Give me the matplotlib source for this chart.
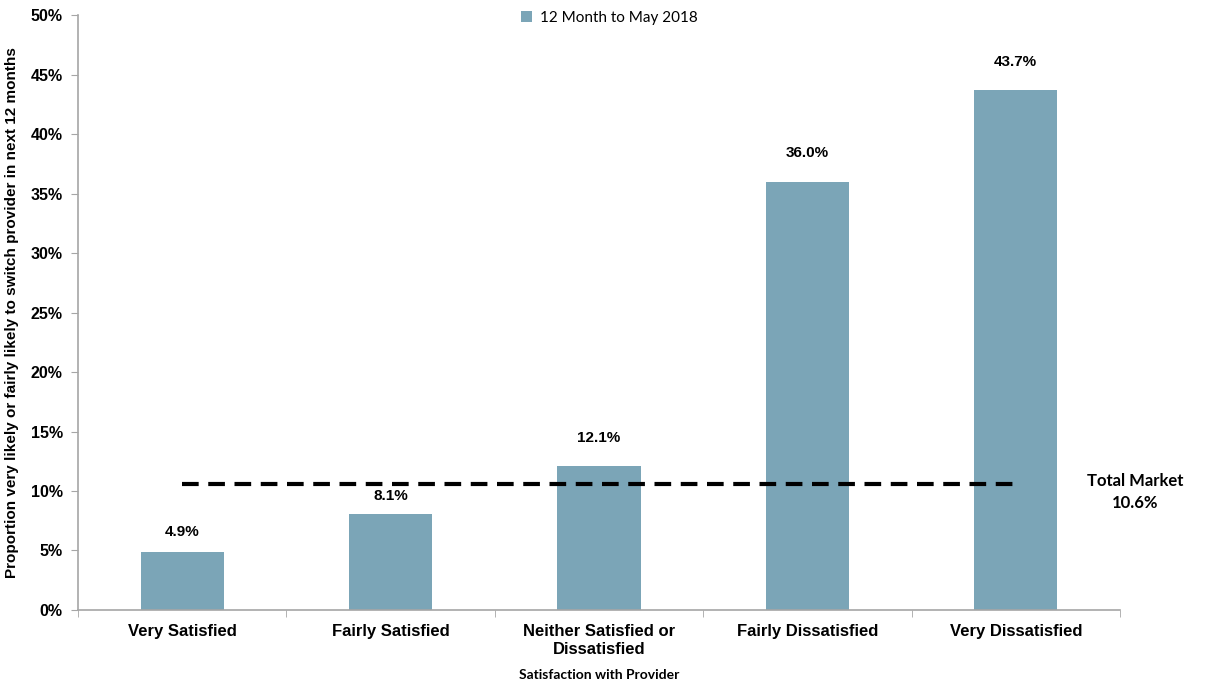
import matplotlib
matplotlib.use("Agg")
import matplotlib.pyplot as plt
import numpy as np
from matplotlib.ticker import FixedLocator, PercentFormatter

categories = ["Very Satisfied", "Fairly Satisfied", "Neither Satisfied or\nDissatisfied",
              "Fairly Dissatisfied", "Very Dissatisfied"]
values = [4.9, 8.1, 12.1, 36.0, 43.7]
total_market = 10.6
series_name = "12 Month to May 2018"
yticks = [0, 5, 10, 15, 20, 25, 30, 35, 40, 45, 50]

# label offsets above bar tops (points) - styling only
label_offsets = [14, 12.5, 20, 20.5, 20.5]

bar_color = "#7BA5B7"
fig = plt.figure(figsize=(12.13, 6.86), dpi=100)
ax = fig.add_axes([0.0643, 0.1108, 0.859, 0.8673])

x = np.arange(len(categories))
bars = ax.bar(x, values, width=0.4, color=bar_color, label=series_name, zorder=2)
for xi, v, off in zip(x, values, label_offsets):
    ax.annotate(f"{v:.1f}%", (xi, v), xytext=(0, off), textcoords="offset points",
                ha="center", va="center", fontsize=11, fontweight="bold",
                family="Liberation Sans")

ax.plot([x[0], x[-1]], [total_market, total_market], color="black", lw=3,
        dashes=(4, 2.3), zorder=3)
ax.annotate(f"Total Market\n{total_market}%", (x[-1], total_market), xytext=(86, -6),
            textcoords="offset points", ha="center", va="center", fontsize=12,
            fontweight="bold", family="Lato", linespacing=1.45)

ax.set_xlim(-0.5, len(categories) - 0.5)
ax.set_ylim(0, 50)
ax.yaxis.set_major_locator(FixedLocator(yticks))
ax.yaxis.set_major_formatter(PercentFormatter(decimals=0))
ax.set_xticks(x)
ax.set_xticklabels(categories, fontsize=12, fontweight="bold", family="Liberation Sans",
                   linespacing=1.3)
ax.set_xticks(np.arange(len(categories) + 1) - 0.5, minor=True)
ax.tick_params(axis="x", which="major", length=0, pad=10)
ax.tick_params(axis="x", which="minor", length=5, color="#A6A6A6", direction="out")
ax.tick_params(axis="y", length=5, color="#A6A6A6", direction="out", pad=6)
for lbl in ax.get_yticklabels():
    lbl.set_fontsize(11.5)
    lbl.set_fontweight("bold")
    lbl.set_family("Liberation Sans")

for s in ["top", "right"]:
    ax.spines[s].set_visible(False)
for s in ["left", "bottom"]:
    ax.spines[s].set_color("#A6A6A6")
    ax.spines[s].set_linewidth(1.2)

ax.set_ylabel("Proportion very likely or fairly likely to switch provider in next 12 months",
              fontsize=11, fontweight="bold", family="Liberation Sans", labelpad=8)
ax.set_xlabel("Satisfaction with Provider", fontsize=10, fontweight="bold",
              family="Lato", labelpad=8)

leg = ax.legend(loc="upper center", bbox_to_anchor=(0.51, 1.03), frameon=False,
                prop={"family": "Lato", "size": 11}, handlelength=0.7, handleheight=0.7,
                handletextpad=0.5)

fig.savefig("out.png", dpi=100)
